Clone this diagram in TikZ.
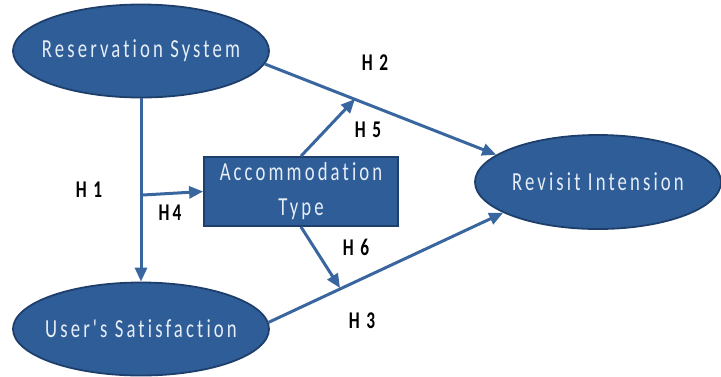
\documentclass[tikz,border=0pt]{standalone}
\usepackage{fontspec}
\usetikzlibrary{shapes.geometric,arrows.meta}
\newfontfamily\diagfont[FakeStretch=0.72,LetterSpace=12,Ligatures=NoCommon]{Carlito}
\definecolor{boxblue}{HTML}{2F5D97}
\definecolor{edgeblue}{HTML}{1E3F6B}
\definecolor{linkblue}{HTML}{3A66A0}
\definecolor{paletext}{HTML}{E6EEF8}
\begin{document}
\begin{tikzpicture}[x=0.5pt,y=-0.5pt,
    construct/.style={ellipse,draw=edgeblue,fill=boxblue,line width=0.9pt,
      inner xsep=-14pt,inner ysep=0pt,minimum width=128pt,minimum height=46.5pt,
      text=paletext,font=\diagfont\fontsize{13}{15}\selectfont},
    moderator/.style={rectangle,draw=edgeblue,fill=boxblue,line width=0.9pt,
      inner sep=0pt,minimum width=97pt,minimum height=34.5pt,align=center,
      text=paletext,font=\diagfont\fontsize{13}{17.5}\selectfont},
    link/.style={draw=linkblue,line width=1.5pt,-{Triangle[length=7pt,width=6pt]}},
    hyp/.style={font=\diagfont\bfseries\fontsize{12}{14}\selectfont}]
  \useasboundingbox (0,0) rectangle (721,376);
  % constructs
  \node[construct] (res) at (141,51) {Reservation System};
  \node[construct] (sat) at (141,329) {User's Satisfaction};
  \node[construct,minimum width=123pt,minimum height=47pt] (rev) at (598,182) {Revisit Intension};
  \node[moderator] (acc) at (301,191.5) {Accommodation\\Type};
  % points on the paths
  \coordinate (h4s) at (143,195);
  \coordinate (h5e) at (355,99);
  \coordinate (h6e) at (340,288);
  % paths
  \draw[link] (res.south) -- (sat.north);
  \draw[link] (res.-6) -- (rev.165);
  \draw[link] (sat.3) -- (rev.-162);
  \draw[link] (h4s) -- (acc.west);
  \draw[link] (acc.north) -- (h5e);
  \draw[link] (acc.south) -- (h6e);
  % labels
  \node[hyp] (l1) at (89,190) {H 1};
  \node[hyp] (l2) at (375,63) {H 2};
  \node[hyp] (l3) at (362,321) {H 3};
  \node[hyp] (l4) at (170,213) {H4};
  \node[hyp] (l5) at (368,130) {H 5};
  \node[hyp] (l6) at (356,247) {H 6};
\end{tikzpicture}
\end{document}
